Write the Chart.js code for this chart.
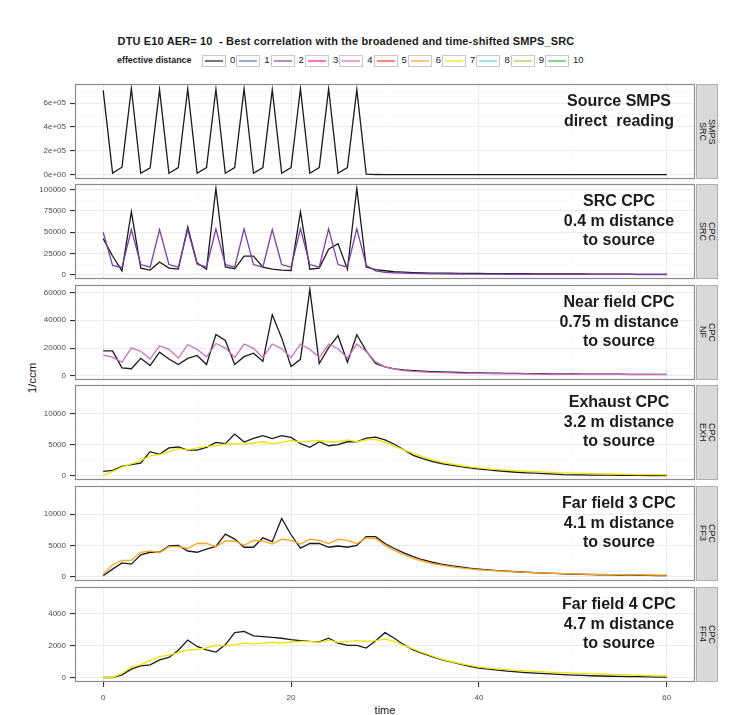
<!DOCTYPE html>
<html><head><meta charset="utf-8">
<script src="https://cdn.jsdelivr.net/npm/chart.js@4.4.1/dist/chart.umd.min.js"></script>
<style>
body{margin:0;background:#fff;width:734px;height:715px;overflow:hidden;font-family:"Liberation Sans",Arial,Helvetica,sans-serif;position:relative}
canvas.c{position:absolute;left:0}
#title{position:absolute;left:0;width:692px;top:35px;text-align:center;font-weight:bold;font-size:11px;letter-spacing:0.15px;color:#1a1a1a;white-space:pre}
#legend{position:absolute;top:54px;left:0;height:14px}
.lt{position:absolute;font-weight:bold;font-size:8.9px;color:#1a1a1a;top:1px;white-space:nowrap}
.key{position:absolute;top:1px;width:22px;height:10px;border:1px solid #c8c8c8;background:#fff}
.key i{position:absolute;left:2px;right:2px;top:4px;height:1.6px}
.kl{position:absolute;font-size:9.5px;color:#1a1a1a;top:0px}
.strip{position:absolute;left:696px;width:22px;height:95px;background:#d9d9d9;border:1px solid #b0b0b0;box-sizing:border-box;display:flex;align-items:center;justify-content:center}
.strip span{writing-mode:vertical-rl;font-size:9px;line-height:8.5px;color:#1a1a1a;text-align:center}
.ann{position:absolute;width:200px;left:519px;text-align:center;font-weight:bold;font-size:16px;line-height:19.5px;color:#1a1a1a;white-space:pre}
#ylab{position:absolute;left:2px;top:372px;width:60px;text-align:center;transform:rotate(-90deg);transform-origin:30px 6px;font-size:11.5px;color:#1a1a1a}
#xlab{position:absolute;left:335px;width:100px;top:704px;text-align:center;font-size:11px;color:#1a1a1a}
</style></head><body>
<div id="title">DTU E10 AER= 10  - Best correlation with the broadened and time-shifted SMPS_SRC</div>
<div id="legend"></div>
<div id="ylab">1/ccm</div>
<div id="xlab">time</div>
<script>
// ---------- data ----------
const time = Array.from({length:61},(_,i)=>i);
const distances = ['0','1','2','3','4','5','6','7','8','9','10'];
const distColors = ['#1a1a1a','#4a74cc','#7b3fa6','#ff1493','#cc6fc4','#ff3030','#ffa31a','#f2e200','#5fd0e0','#9ccc3a','#3cb83c'];

const smpsSrc0 = [707000,14000,63000,722000,12000,58000,712000,12000,60000,720000,12000,60000,716000,12000,60000,720000,12000,60000,712000,12000,60000,720000,12000,60000,720000,12000,60000,712000,5000,1500,1000,1000,1000,1000,1000,1000,1000,1000,1000,1000,1000,1000,1000,1000,1000,1000,1000,1000,1000,1000,1000,1000,1000,1000,1000,1000,1000,1000,1000,1000,1000];

const cpcSrc0 = [42500,22000,4500,74000,7800,5500,15000,7800,6600,56000,13700,6600,101500,9300,7000,22000,22000,9000,6500,5500,5000,74000,6500,7800,30000,36600,6500,101500,9000,6000,4700,3500,3000,2600,2300,2000,1900,1800,1700,1600,1500,1400,1300,1250,1200,1150,1100,1050,1000,950,900,850,800,750,700,650,600,550,500,500,500];
const cpcSrc2 = [50000,11000,8600,53000,12000,9000,53000,12000,9000,53000,12500,9000,54000,12000,9000,54000,12000,9000,53000,12000,9000,54000,12000,9000,54000,12000,9000,54000,11000,4500,2800,2200,1800,1500,1300,1150,1000,900,850,800,750,700,650,600,580,560,540,520,500,480,460,440,420,400,380,360,340,320,300,290,280];

const cpcNf0 = [17900,18000,5800,5100,12600,7400,17000,12100,8200,12600,14700,8200,29800,25400,8200,13800,16300,10500,44000,27300,6700,11900,62300,8800,20300,28900,9800,29600,18000,9000,6500,5000,4200,3700,3300,3000,2800,2600,2400,2200,2100,2000,1900,1800,1700,1600,1550,1500,1450,1400,1350,1300,1250,1200,1200,1150,1100,1100,1050,1000,1000];
const cpcNf4 = [14900,13500,9800,20000,17700,12100,21700,19100,12800,22400,19100,13700,23300,20000,13200,22900,19800,13200,22900,19500,13200,22900,19100,13200,22900,19500,12800,22900,17500,10000,6500,4800,3800,3200,2800,2500,2300,2100,1900,1800,1700,1600,1500,1450,1400,1350,1300,1250,1200,1150,1100,1100,1050,1000,1000,1000,950,950,950,900,900];

const cpcExh0 = [700,860,1500,1800,2050,3900,3450,4500,4650,4150,4150,4600,5400,5200,6750,5450,6050,6500,6000,6500,6200,5200,4600,5500,4850,5050,5500,5500,6100,6250,5800,5100,4200,3300,2750,2300,1950,1700,1480,1280,1080,930,800,680,560,470,400,320,240,160,140,120,100,90,80,60,50,40,30,10,0];
const cpcExh7 = [0,700,1400,1900,2400,3200,3400,3900,4400,4200,4500,4750,4850,5100,5200,5100,5300,5500,5200,5400,5700,5450,5600,5700,5500,5500,5800,5500,5800,5900,5400,4800,4200,3600,3100,2600,2200,1900,1650,1430,1250,1100,980,880,800,720,650,580,520,470,420,380,340,300,270,240,210,190,170,160,150];

const cpcFf30 = [150,1200,2200,2000,3500,3900,3900,4900,5000,4100,3900,4400,4850,6800,6000,4700,4700,6200,5600,9300,6700,4550,5300,5300,4700,4900,4700,5000,6400,6400,5300,4500,3800,3200,2700,2300,2000,1750,1550,1350,1200,1080,970,870,780,700,630,570,510,460,410,370,330,300,270,250,230,210,190,170,150];
const cpcFf36 = [400,1900,2600,2600,3900,4100,3800,4800,4800,4500,5300,5300,4800,5700,5700,5000,5800,5700,5200,6000,5800,5200,6000,5800,5300,6000,5800,5300,6200,6100,5000,4200,3500,2900,2500,2100,1850,1600,1400,1250,1100,1000,900,820,750,680,620,570,520,480,440,410,380,350,330,310,290,270,260,250,240];

const cpcFf40 = [0,0,170,520,730,790,1100,1250,1700,2340,1940,1730,1590,2040,2800,2880,2600,2550,2500,2450,2360,2300,2250,2220,2460,2150,2000,2000,1840,2300,2800,2450,2050,1720,1500,1300,1120,970,840,700,590,520,460,400,350,310,270,240,210,180,150,130,110,95,80,70,60,50,40,30,25];
const cpcFf47 = [0,0,250,650,800,1050,1300,1400,1550,1720,1750,1850,2000,1970,2050,2150,2100,2150,2200,2150,2200,2250,2250,2200,2350,2200,2250,2300,2250,2300,2400,2250,2000,1780,1550,1350,1150,1000,870,760,650,590,540,490,440,410,380,350,320,300,280,260,240,220,200,180,160,140,120,110,100];

const xTicks = [0,20,40,60];
const yTicksSmps = [0,200000,400000,600000];
const yTicksSrc = [0,25000,50000,75000,100000];
const yTicksNf = [0,20000,40000,60000];
const yTicksExh = [0,5000,10000];
const yTicksFf3 = [0,5000,10000];
const yTicksFf4 = [0,2000,4000];

const stripLabels = ['SMPS\nSRC','CPC\nSRC','CPC\nNF','CPC\nEXH','CPC\nFF3','CPC\nFF4'];
const panelTitles = ['Source SMPS\ndirect  reading','SRC CPC\n0.4 m distance\nto source','Near field CPC\n0.75 m distance\nto source','Exhaust CPC\n3.2 m distance\nto source','Far field 3 CPC\n4.1 m distance\nto source','Far field 4 CPC\n4.7 m distance\nto source'];

// ---------- layout ----------
const panels = [
  {series:[[0,smpsSrc0]], ticks:yTicksSmps, min:-36000, max:760000, sci:true},
  {series:[[0,cpcSrc0],[2,cpcSrc2]], ticks:yTicksSrc, min:-5000, max:106700},
  {series:[[0,cpcNf0],[4,cpcNf4]], ticks:yTicksNf, min:-3000, max:65400},
  {series:[[0,cpcExh0],[7,cpcExh7]], ticks:yTicksExh, min:-700, max:14700},
  {series:[[0,cpcFf30],[6,cpcFf36]], ticks:yTicksFf3, min:-700, max:14500},
  {series:[[0,cpcFf40],[7,cpcFf47]], ticks:yTicksFf4, min:-280, max:5650}
];
const tops = [84,184,285,385,486,587];
const PH = 95, PAD = 2, XAXH = 22;

// legend
const leg = document.getElementById('legend');
leg.innerHTML = '<div class="lt" style="left:117px">effective distance</div>';
distances.forEach((d,i)=>{
  const x = 202 + i*34.3;
  leg.innerHTML += `<div class="key" style="left:${x}px"><i style="background:${distColors[i]};opacity:0.6"></i></div><div class="kl" style="left:${x+28}px">${d}</div>`;
});

function sci(v){
  if (v===0) return '0e+00';
  const e = Math.floor(Math.log10(Math.abs(v)));
  const m = Math.round(v/Math.pow(10,e)*100)/100;
  return m + 'e+' + String(e).padStart(2,'0');
}

const borderPlugin = {
  id:'pborder',
  afterDraw(chart){
    const a = chart.chartArea, c = chart.ctx;
    c.save(); c.strokeStyle='#8c8c8c'; c.lineWidth=1.2;
    c.strokeRect(a.left+0.5, a.top+0.5, a.right-a.left-1, a.bottom-a.top-1);
    c.restore();
  }
};

panels.forEach((p,pi)=>{
  const bottom = pi===panels.length-1;
  const cv = document.createElement('canvas');
  cv.className='c';
  const W = 695+PAD, H = PH + PAD + (bottom? XAXH : PAD);
  cv.width=W; cv.height=H;
  cv.style.top = (tops[pi]-PAD)+'px';
  cv.style.width=W+'px'; cv.style.height=H+'px';
  document.body.appendChild(cv);

  const step = p.ticks[1]-p.ticks[0];
  const isMajY = v => Math.abs(v/step - Math.round(v/step)) < 1e-6;
  const isMajX = v => v % 20 === 0;

  const datasets = p.series.map(([d,vals])=>({
    label: distances[d],
    data: vals.map((v,i)=>({x:time[i], y:v})),
    borderColor: distColors[d],
    borderWidth: 1.3,
    order: d===0 ? 1 : 0,
    pointRadius:0, tension:0, fill:false
  }));

  new Chart(cv, {
    type:'line',
    data:{datasets},
    options:{
      responsive:false, animation:false, devicePixelRatio:1,
      layout:{padding:{top:PAD, bottom: bottom?0:PAD, left:0, right:PAD}},
      plugins:{legend:{display:false}, tooltip:{enabled:false}},
      scales:{
        x:{
          type:'linear', min:-3, max:63,
          afterBuildTicks: s => { s.ticks = [0,10,20,30,40,50,60].map(v=>({value:v})); },
          afterFit: s => { s.height = bottom? XAXH : 0; s.paddingLeft=0; s.paddingRight=0; },
          grid:{
            color: ctx => isMajX(ctx.tick.value) ? '#ebebeb' : '#f5f5f5',
            lineWidth: ctx => isMajX(ctx.tick.value) ? 1.1 : 0.6,
            tickColor: ctx => isMajX(ctx.tick.value) ? '#333333' : 'rgba(0,0,0,0)',
            drawTicks: bottom, tickLength:5
          },
          border:{display:false},
          ticks:{
            display: bottom, padding:6, maxRotation:0, autoSkip:false,
            color:'#4d4d4d', font:{size:8, family:'"Liberation Sans", Arial, sans-serif'},
            callback: v => xTicks.includes(v) ? String(v) : ''
          }
        },
        y:{
          type:'linear', min:p.min, max:p.max,
          afterBuildTicks: s => {
            const arr=[]; const h=step/2;
            for (let v=Math.ceil(p.min/h)*h; v<=p.max; v+=h) arr.push({value:v});
            s.ticks = arr;
          },
          afterFit: s => { s.width = 75; s.paddingTop=0; s.paddingBottom=0; },
          grid:{
            color: ctx => isMajY(ctx.tick.value) ? '#ebebeb' : '#f5f5f5',
            lineWidth: ctx => isMajY(ctx.tick.value) ? 1.1 : 0.6,
            tickColor: ctx => isMajY(ctx.tick.value) ? '#333333' : 'rgba(0,0,0,0)',
            tickLength:5
          },
          border:{display:false},
          ticks:{
            padding:4, autoSkip:false,
            color:'#4d4d4d', font:{size:8, family:'"Liberation Sans", Arial, sans-serif'},
            callback: v => (isMajY(v) && p.ticks.includes(Math.round(v))) ? (p.sci ? sci(v) : String(Math.round(v))) : ''
          }
        }
      }
    },
    plugins:[borderPlugin]
  });

  const st = document.createElement('div');
  st.className='strip'; st.style.top = tops[pi]+'px';
  st.innerHTML = '<span>'+stripLabels[pi].replace('\n','<br>')+'</span>';
  document.body.appendChild(st);

  const an = document.createElement('div');
  an.className='ann'; an.style.top = (tops[pi]+7)+'px';
  an.textContent = panelTitles[pi];
  document.body.appendChild(an);
});
</script>
</body></html>
